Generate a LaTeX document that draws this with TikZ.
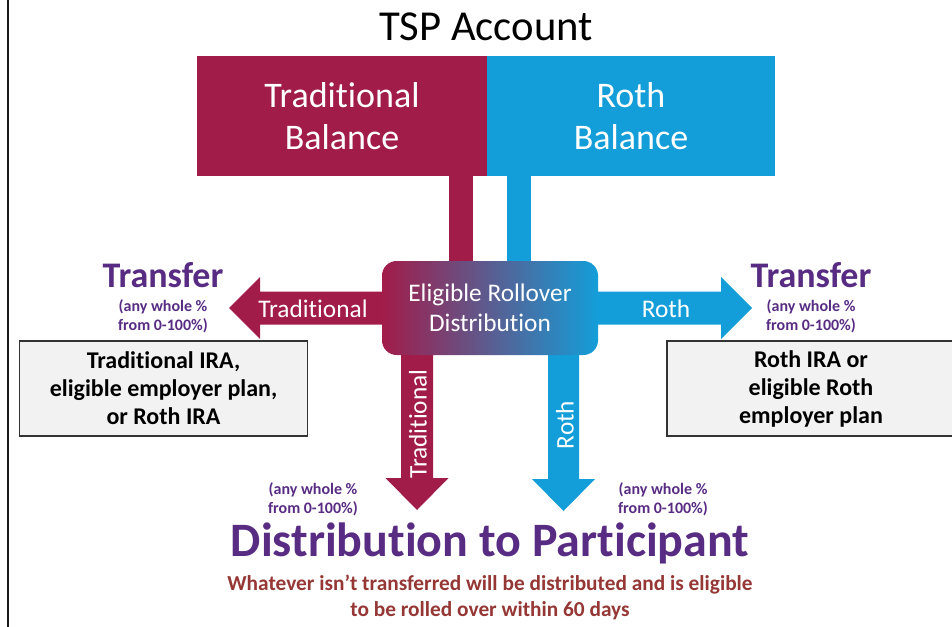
\documentclass[tikz,border=0pt]{standalone}
\usepackage{fontspec}
\setmainfont{Carlito}[Ligatures={TeX,NoCommon,NoContextual,NoRare},Contextuals=NoAlternate]
\usetikzlibrary{calc,backgrounds}
\definecolor{crim}{RGB}{162,28,73}
\definecolor{blu}{RGB}{19,158,217}
\definecolor{purp}{RGB}{88,44,131}
\definecolor{notered}{RGB}{149,55,53}
\definecolor{boxgray}{RGB}{242,242,242}
\begin{document}
\begin{tikzpicture}[x=0.75pt,y=-0.75pt,
  balance/.style={inner sep=0pt, text=white, align=center,
    font=\fontsize{27}{32}\selectfont, minimum height=90pt},
  erdbox/.style={inner sep=0pt, rounded corners=11pt, left color=crim, right color=blu,
    text=white, align=center, font=\fontsize{19}{22.5}\selectfont,
    minimum width=162pt, minimum height=70.5pt},
  arrowlabel/.style={text=white, font=\fontsize{19}{22}\selectfont, inner sep=0pt},
  transfer/.style={text=purp, font=\bfseries\fontsize{27}{32}\selectfont, inner sep=0pt},
  pct/.style={text=purp, align=center, font=\bfseries\fontsize{12}{14.25}\selectfont, inner sep=0pt},
  destbox/.style={draw=black!80, line width=0.8pt, fill=boxgray, align=center,
    font=\bfseries\fontsize{18}{21}\selectfont, inner sep=0pt,
    minimum width=216pt, minimum height=71.25pt}]
\useasboundingbox (0,0) rectangle (952,627);

% frame line on the left
\draw[line width=1.6pt, black!90] (8.3,0) -- (8.3,627);

% heading and account balances
\node[font=\fontsize{32}{38}\selectfont, inner sep=0pt] (title) at (486,27) {TSP Account};
\node[balance, fill=crim, minimum width=217.5pt] (tradbal) at (342,116) {Traditional\\Balance};
\node[balance, fill=blu, minimum width=216pt] (rothbal) at (631,116) {Roth\\Balance};

% central distribution box
\node[erdbox] (erd) at (490,308) {Eligible Rollover\\Distribution};

% arrow reference points
\coordinate (tstem) at (461,0);
\coordinate (rstem) at (519,0);
\coordinate (ltip) at (229,308);
\coordinate (rtip) at (752,308);
\coordinate (tdn) at (417,510);
\coordinate (rdn) at (563.5,511);

\begin{pgfonlayer}{background}
  % stems from the balances into the box
  \fill[crim] ($(tradbal.south -| tstem)+(-12,0)$) rectangle ($(erd.center -| tstem)+(12,0)$);
  \fill[blu] ($(rothbal.south -| rstem)+(-12,0)$) rectangle ($(erd.center -| rstem)+(12,0)$);
  % transfer arrows
  \fill[crim] ($(erd.center)+(0,-16.5)$) -- ($(ltip)+(31,-16.5)$) -- ($(ltip)+(31,-31)$)
    -- (ltip) -- ($(ltip)+(31,31)$) -- ($(ltip)+(31,16.5)$) -- ($(erd.center)+(0,16.5)$) -- cycle;
  \fill[blu] ($(erd.center)+(0,-16.5)$) -- ($(rtip)+(-31,-16.5)$) -- ($(rtip)+(-31,-31)$)
    -- (rtip) -- ($(rtip)+(-31,31)$) -- ($(rtip)+(-31,16.5)$) -- ($(erd.center)+(0,16.5)$) -- cycle;
  % distribution arrows
  \fill[crim] ($(tdn |- erd.center)+(-16,0)$) -- ($(tdn)+(-16,-32)$) -- ($(tdn)+(-31.5,-32)$)
    -- (tdn) -- ($(tdn)+(31.5,-32)$) -- ($(tdn)+(16,-32)$) -- ($(tdn |- erd.center)+(16,0)$) -- cycle;
  \fill[blu] ($(rdn |- erd.center)+(-15.5,0)$) -- ($(rdn)+(-15.5,-32)$) -- ($(rdn)+(-31.5,-32)$)
    -- (rdn) -- ($(rdn)+(31.5,-32)$) -- ($(rdn)+(15.5,-32)$) -- ($(rdn |- erd.center)+(15.5,0)$) -- cycle;
\end{pgfonlayer}

% arrow labels
\node[arrowlabel] (ltrad) at (313,309) {Traditional};
\node[arrowlabel] (lroth) at (666,309) {Roth};
\node[arrowlabel, rotate=90] (dtrad) at (418,424) {Traditional};
\node[arrowlabel, rotate=90] (droth) at (565,425) {Roth};

% transfer destinations
\node[transfer] (tleft) at (163,275) {Transfer};
\node[pct] (pleft) at (163,316) {(any whole \%\\from 0-100\%)};
\node[destbox] (lbox) at (163.5,388.5) {Traditional IRA,\\eligible employer plan,\\or Roth IRA};

\node[transfer] (tright) at (811,275) {Transfer};
\node[pct] (pright) at (811,316) {(any whole \%\\from 0-100\%)};
\node[destbox] (rbox) at (811,388.5) {Roth IRA or\\eligible Roth\\employer plan};

% distribution to participant
\node[pct] (pdl) at (313,499) {(any whole \%\\from 0-100\%)};
\node[pct] (pdr) at (663,499) {(any whole \%\\from 0-100\%)};
\node[text=purp, font=\bfseries\fontsize{36}{40}\selectfont, inner sep=0pt] (dist) at (490,543) {Distribution to Participant};
\node[text=notered, align=center, font=\bfseries\fontsize{16}{19.5}\selectfont, inner sep=0pt] (note) at (490,597)
  {Whatever isn’t transferred will be distributed and is eligible\\to be rolled over within 60 days};
\end{tikzpicture}
\end{document}
